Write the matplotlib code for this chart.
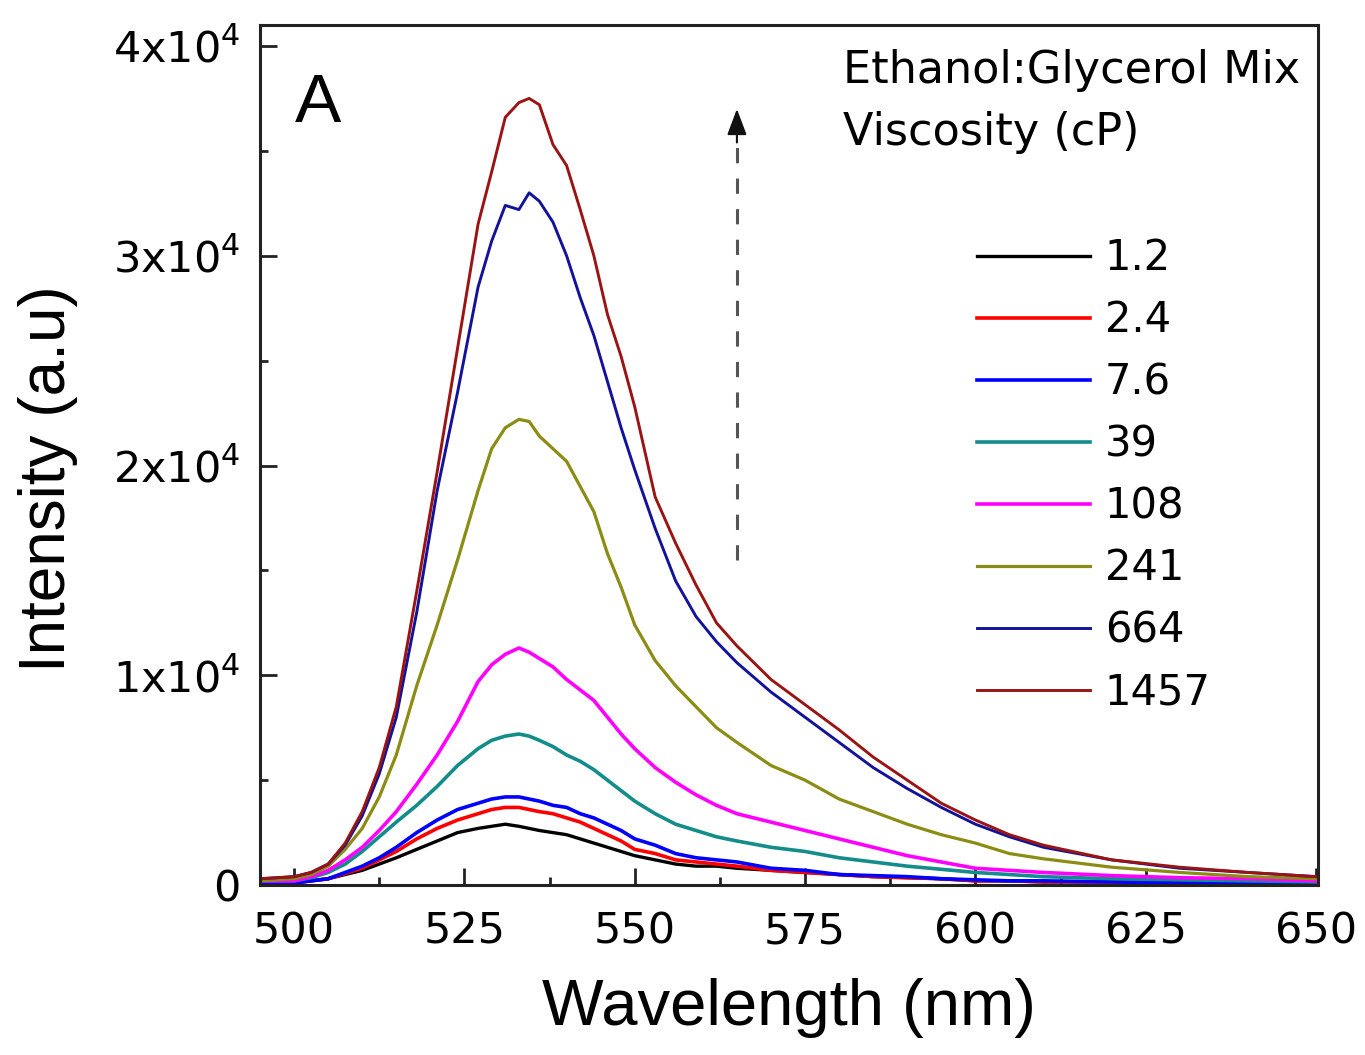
import matplotlib
matplotlib.use("Agg")
import matplotlib.pyplot as plt
import numpy as np

plt.rcParams['font.family'] = ['DejaVu Sans']
plt.rcParams['mathtext.fontset'] = 'dejavusans'

# Wavelength grid (nm)
wavelength = [495, 500, 502.5, 505, 507.5, 510, 512.5, 515, 518, 521, 524, 527, 529, 531, 533,
              534.5, 536, 538, 540, 542, 544, 546, 548, 550, 553, 556, 559, 562, 565, 570,
              575, 580, 585, 590, 595, 600, 605, 610, 620, 630, 640, 650]

# Intensities in units of 1e4 a.u.
i_1_2 = [0.01, 0.01, 0.02, 0.03, 0.05, 0.07, 0.10, 0.13, 0.17, 0.21, 0.25, 0.27, 0.28, 0.29, 0.28,
         0.27, 0.26, 0.25, 0.24, 0.22, 0.20, 0.18, 0.16, 0.14, 0.12, 0.10, 0.09, 0.09, 0.08, 0.07,
         0.06, 0.05, 0.04, 0.035, 0.03, 0.02, 0.02, 0.015, 0.015, 0.01, 0.01, 0.01]
i_2_4 = [0.01, 0.01, 0.02, 0.03, 0.055, 0.08, 0.12, 0.16, 0.22, 0.27, 0.31, 0.34, 0.36, 0.37, 0.37,
         0.36, 0.35, 0.34, 0.32, 0.30, 0.27, 0.24, 0.21, 0.17, 0.15, 0.12, 0.11, 0.10, 0.09, 0.07,
         0.06, 0.05, 0.04, 0.035, 0.03, 0.02, 0.02, 0.015, 0.015, 0.01, 0.01, 0.01]
i_7_6 = [0.01, 0.01, 0.02, 0.03, 0.06, 0.09, 0.13, 0.18, 0.25, 0.31, 0.36, 0.39, 0.41, 0.42, 0.42,
         0.41, 0.40, 0.38, 0.37, 0.34, 0.32, 0.29, 0.26, 0.22, 0.19, 0.15, 0.13, 0.12, 0.11, 0.08,
         0.07, 0.05, 0.045, 0.04, 0.03, 0.025, 0.02, 0.02, 0.015, 0.01, 0.01, 0.01]
i_39 = [0.02, 0.02, 0.035, 0.06, 0.10, 0.16, 0.23, 0.30, 0.38, 0.47, 0.57, 0.65, 0.69, 0.71, 0.72,
        0.71, 0.69, 0.66, 0.62, 0.59, 0.55, 0.50, 0.45, 0.40, 0.34, 0.29, 0.26, 0.23, 0.21, 0.18,
        0.16, 0.13, 0.11, 0.09, 0.075, 0.06, 0.05, 0.04, 0.03, 0.025, 0.02, 0.015]
i_108 = [0.02, 0.02, 0.04, 0.07, 0.12, 0.18, 0.26, 0.35, 0.48, 0.62, 0.78, 0.97, 1.05, 1.10, 1.13,
         1.11, 1.08, 1.04, 0.98, 0.93, 0.88, 0.80, 0.72, 0.65, 0.56, 0.49, 0.43, 0.38, 0.34, 0.30,
         0.26, 0.22, 0.18, 0.14, 0.11, 0.08, 0.07, 0.06, 0.045, 0.035, 0.03, 0.02]
i_241 = [0.02, 0.03, 0.05, 0.09, 0.17, 0.27, 0.42, 0.62, 0.95, 1.24, 1.55, 1.88, 2.08, 2.18, 2.22,
         2.21, 2.14, 2.08, 2.02, 1.90, 1.78, 1.58, 1.42, 1.24, 1.07, 0.95, 0.85, 0.75, 0.68, 0.57,
         0.50, 0.41, 0.35, 0.29, 0.24, 0.20, 0.15, 0.125, 0.085, 0.06, 0.04, 0.03]
i_664 = [0.03, 0.04, 0.06, 0.10, 0.19, 0.33, 0.53, 0.80, 1.30, 1.88, 2.35, 2.85, 3.07, 3.24, 3.22,
         3.30, 3.26, 3.16, 3.00, 2.80, 2.62, 2.40, 2.18, 1.98, 1.70, 1.45, 1.28, 1.16, 1.06, 0.92,
         0.80, 0.68, 0.56, 0.46, 0.37, 0.29, 0.23, 0.18, 0.12, 0.08, 0.06, 0.04]
i_1457 = [0.03, 0.04, 0.06, 0.10, 0.20, 0.35, 0.56, 0.85, 1.40, 1.97, 2.56, 3.15, 3.40, 3.66, 3.73,
          3.75, 3.72, 3.53, 3.43, 3.22, 3.00, 2.72, 2.52, 2.28, 1.85, 1.63, 1.43, 1.25, 1.14, 0.98,
          0.86, 0.74, 0.61, 0.50, 0.39, 0.31, 0.24, 0.19, 0.12, 0.085, 0.06, 0.04]

labels = ['1.2', '2.4', '7.6', '39', '108', '241', '664', '1457']
series = [i_1_2, i_2_4, i_7_6, i_39, i_108, i_241, i_664, i_1457]
colors = ['#000000', '#ff0000', '#0000ff', '#138c8c', '#ff00ff', '#8c8c14', '#12129a', '#9a1414']
widths = [2.4, 2.6, 2.6, 2.6, 2.6, 2.3, 2.1, 2.1]

yticks = [0, 1e4, 2e4, 3e4, 4e4]
ytick_labels = ['0', r'1x10$^4$', r'2x10$^4$', r'3x10$^4$', r'4x10$^4$']
xticks = [500, 525, 550, 575, 600, 625, 650]

fig = plt.figure(figsize=(13.65, 10.55), dpi=100)
ax = fig.add_axes([0.1905, 0.1611, 0.7751, 0.8152])

wl = np.array(wavelength)
for vals, lab, c, lw in zip(series, labels, colors, widths):
    ax.plot(wl, np.array(vals) * 1e4, color=c, lw=lw, label=lab, solid_joinstyle='round')

ax.set_xlim(495, 650.3)
ax.set_ylim(0, 41000)
ax.set_xticks(xticks)
ax.set_xticks(np.arange(512.5, 650, 25), minor=True)
ax.set_yticks(yticks)
ax.set_yticklabels(ytick_labels)
ax.set_yticks(np.arange(5000, 41000, 10000), minor=True)

ax.tick_params(which='both', direction='in', top=False, right=False, width=2,
               labelsize=31, color='#222222')
ax.tick_params(which='major', length=12)
ax.tick_params(which='minor', length=6)
ax.tick_params(axis='x', pad=18)
ax.tick_params(axis='y', pad=14)
for s in ax.spines.values():
    s.set_linewidth(2.2)
    s.set_color('#222222')

ax.set_xlabel('Wavelength (nm)', fontsize=47, labelpad=19, family='Liberation Sans')
ax.set_ylabel('Intensity (a.u)', fontsize=46, family='Liberation Sans')
ax.yaxis.set_label_coords(-0.172, 0.473)

ax.text(0.033, 0.887, 'A', transform=ax.transAxes, fontsize=50, ha='left', va='baseline',
        family='Liberation Sans')
ax.text(0.551, 0.932, 'Ethanol:Glycerol Mix', transform=ax.transAxes, fontsize=32,
        ha='left', va='baseline')
ax.text(0.551, 0.861, 'Viscosity (cP)', transform=ax.transAxes, fontsize=32,
        ha='left', va='baseline')

# dashed arrow
ax.plot([565, 565], [15500, 35600], color='#555555', lw=2.2, dashes=(5, 5))
ax.annotate('', xy=(565, 37000), xytext=(565, 35400),
            arrowprops=dict(arrowstyle='-|>,head_length=0.8,head_width=0.3',
                            color='#111111', lw=1.5, mutation_scale=20, shrinkA=0, shrinkB=0))

leg = ax.legend(loc='upper left', bbox_to_anchor=(0.678, 0.753), frameon=False, fontsize=30,
                handlelength=2.7, handletextpad=0.36, labelspacing=0.48, borderpad=0,
                borderaxespad=0)

fig.savefig('out.png', dpi=100, facecolor='white')
